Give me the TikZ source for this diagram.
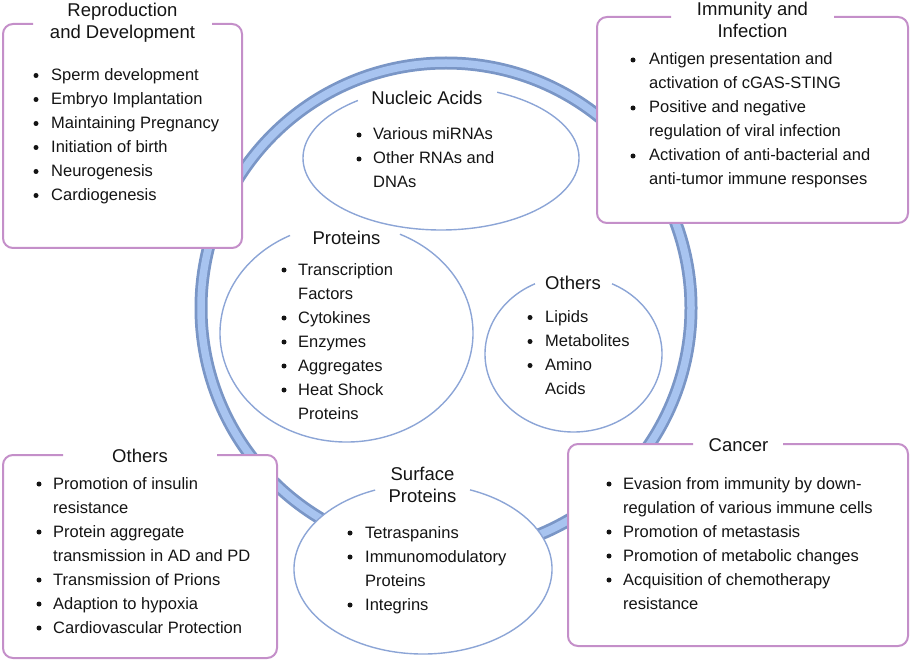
\documentclass[tikz,border=0pt]{standalone}
\usepackage{fontspec}
\setmainfont{Liberation Sans}
\definecolor{ringdark}{RGB}{122,150,198}
\definecolor{ringlight}{RGB}{168,196,240}
\definecolor{boxpink}{RGB}{196,143,201}
\definecolor{ellblue}{RGB}{140,165,214}
\definecolor{txt}{RGB}{20,20,20}
\begin{document}
\begin{tikzpicture}[x=1pt,y=1pt,
 item/.style={anchor=base west, inner sep=0, text=txt, font=\fontsize{16.5}{20}\selectfont},
 ttl/.style={anchor=base, inner sep=0, text=txt, font=\fontsize{18.5}{22}\selectfont},
 dot/.style={circle, fill=txt, inner sep=0, minimum size=5pt},
 frame/.style={draw=boxpink, line width=2, rounded corners=10},
 ell/.style={draw=ellblue, line width=1.4}]
\useasboundingbox (0,0) rectangle (913,-663);
% ring
\draw[ringdark, line width=13] (446,-308) circle[radius=245];
\draw[ringlight, line width=7.5] (446,-308) circle[radius=245];
% boxes
\fill[white, rounded corners=10] (3,-24) rectangle (242,-248);
\draw[frame] (212,-24) -- (242,-24) -- (242,-248) -- (3,-248) -- (3,-24) -- (33,-24);
\fill[white, rounded corners=10] (597,-17) rectangle (908,-223);
\draw[frame] (834,-17) -- (908,-17) -- (908,-223) -- (597,-223) -- (597,-17) -- (671,-17);
\fill[white, rounded corners=10] (3,-455) rectangle (277,-658);
\draw[frame] (217,-455) -- (277,-455) -- (277,-658) -- (3,-658) -- (3,-455) -- (63,-455);
\fill[white, rounded corners=10] (568,-444) rectangle (908,-646);
\draw[frame] (783,-444) -- (908,-444) -- (908,-646) -- (568,-646) -- (568,-444) -- (693,-444);
% ellipses
\draw[ell] (441,-158) ++(127:138 and 72) arc[start angle=127, end angle=426, x radius=138, y radius=72];
\draw[ell] (346.5,-333) ++(116.5:126.5 and 109) arc[start angle=116.5, end angle=425, x radius=126.5, y radius=109];
\draw[ell] (573.5,-354) ++(115.8:88.5 and 78) arc[start angle=115.8, end angle=424.2, x radius=88.5, y radius=78];
\fill[white] (423,-569) ellipse[x radius=129, y radius=85];
\draw[ell] (423,-569) ++(111.8:129 and 85) arc[start angle=111.8, end angle=428.6, x radius=129, y radius=85];
% titles
\node[ttl] (t1a) at (122.5,-17) {Reproduction};
\node[ttl] (t1b) at (122.5,-39) {and Development};
\node[ttl] (t2a) at (752.5,-16) {Immunity and};
\node[ttl] (t2b) at (752.5,-38) {Infection};
\node[ttl] (t3) at (140,-462) {Others};
\node[ttl] (t4) at (738.5,-451) {Cancer};
\node[ttl] (t5) at (427,-105) {Nucleic Acids};
\node[ttl] (t6) at (346.5,-244) {Proteins};
\node[ttl] (t7) at (573,-289) {Others};
\node[ttl] (t8a) at (422.5,-480) {Surface};
\node[ttl] (t8b) at (422.5,-502) {Proteins};
% box 1 items
\foreach \y/\t [count=\i] in {80.5/Sperm development,104.5/Embryo Implantation,128.5/Maintaining Pregnancy,152.5/Initiation of birth,176.5/Neurogenesis,200.5/Cardiogenesis}
  \node[item] (a\i) at (51,-\y) {\t};
\foreach \y [count=\i] in {80.5,104.5,128.5,152.5,176.5,200.5}
  \node[dot] (ab\i) at (36,-\y+5) {};
% box 2 items
\foreach \y/\t [count=\i] in {65/Antigen presentation and,89/activation of cGAS-STING,113/Positive and negative,137/regulation of viral infection,161/Activation of anti-bacterial and,185/anti-tumor immune responses}
  \node[item] (b\i) at (649,-\y) {\t};
\foreach \y [count=\i] in {65,113,161}
  \node[dot] (bb\i) at (633,-\y+5) {};
% box 3 items
\foreach \y/\t [count=\i] in {489/Promotion of insulin,513/resistance,537/Protein aggregate,561/transmission in AD and PD,585/Transmission of Prions,609/Adaption to hypoxia,633/Cardiovascular Protection}
  \node[item] (c\i) at (53,-\y) {\t};
\foreach \y [count=\i] in {489,537,585,609,633}
  \node[dot] (cb\i) at (39,-\y+5) {};
% box 4 items
\foreach \y/\t [count=\i] in {489/Evasion from immunity by down-,513/regulation of various immune cells,537/Promotion of metastasis,561/Promotion of metabolic changes,585/Acquisition of chemotherapy,609/resistance}
  \node[item] (d\i) at (623,-\y) {\t};
\foreach \y [count=\i] in {489,537,561,585}
  \node[dot] (db\i) at (609,-\y+5) {};
% nucleic acids
\foreach \y/\t [count=\i] in {140/Various miRNAs,164/Other RNAs and,188/DNAs}
  \node[item] (e\i) at (373,-\y) {\t};
\foreach \y [count=\i] in {140,164}
  \node[dot] (eb\i) at (359,-\y+5) {};
% proteins
\foreach \y/\t [count=\i] in {275/Transcription,299/Factors,323/Cytokines,347/Enzymes,371/Aggregates,395/Heat Shock,419/Proteins}
  \node[item] (f\i) at (298,-\y) {\t};
\foreach \y [count=\i] in {275,323,347,371,395}
  \node[dot] (fb\i) at (284,-\y+5) {};
% others (right)
\foreach \y/\t [count=\i] in {322.5/Lipids,346.5/Metabolites,370.5/Amino,394.5/Acids}
  \node[item] (g\i) at (545,-\y) {\t};
\foreach \y [count=\i] in {322.5,346.5,370.5}
  \node[dot] (gb\i) at (530,-\y+5) {};
% surface proteins
\foreach \y/\t [count=\i] in {538/Tetraspanins,562/Immunomodulatory,586/Proteins,610/Integrins}
  \node[item] (h\i) at (365,-\y) {\t};
\foreach \y [count=\i] in {538,562,610}
  \node[dot] (hb\i) at (350,-\y+5) {};
\end{tikzpicture}
\end{document}
